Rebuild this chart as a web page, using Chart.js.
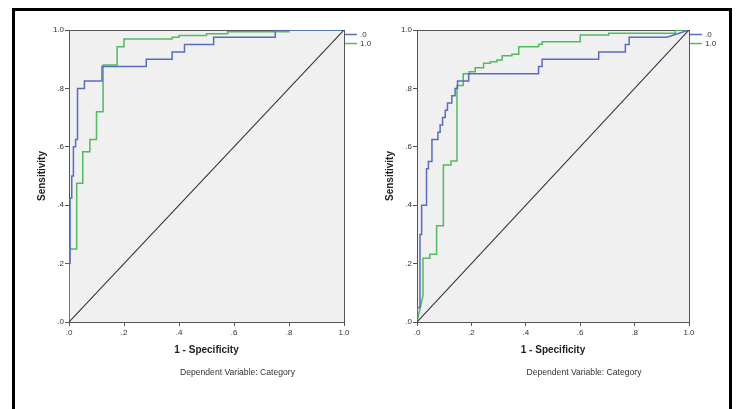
<!DOCTYPE html>
<html>
<head>
<meta charset="utf-8">
<script src="https://cdn.jsdelivr.net/npm/chart.js@4.4.1/dist/chart.umd.min.js"></script>
<style>
  body { margin: 0; background: #fff; width: 740px; height: 409px; overflow: hidden; position: relative; }
  #frame { position: absolute; left: 12px; top: 8px; width: 720px; height: 440px; border: 3px solid #000; box-sizing: border-box; }
  canvas { position: absolute; top: 15px; }
  #rocLeft { left: 15px; }
  #rocRight { left: 365px; }
</style>
</head>
<body>
<div id="frame"></div>
<canvas id="rocLeft" width="370" height="370"></canvas>
<canvas id="rocRight" width="362" height="370"></canvas>
<script>
// ROC coordinates: [1 - specificity, sensitivity]
const tickValues = [0, 0.2, 0.4, 0.6, 0.8, 1];
const tickLabels = ['.0', '.2', '.4', '.6', '.8', '1.0'];
const seriesNames = ['.0', '1.0'];
const xTitle = '1 - Specificity';
const yTitle = 'Sensitivity';
const footnote = 'Dependent Variable: Category';
const referenceLine = [[0, 0], [1, 1]];

const leftBlue = [
  [0, 0], [0, 0.2], [0.004, 0.2], [0.004, 0.425], [0.01, 0.425], [0.01, 0.5],
  [0.016, 0.5], [0.016, 0.6], [0.024, 0.6], [0.024, 0.625], [0.031, 0.625], [0.031, 0.8],
  [0.056, 0.8], [0.056, 0.825], [0.12, 0.825], [0.12, 0.875], [0.281, 0.875], [0.281, 0.9],
  [0.375, 0.9], [0.375, 0.925], [0.42, 0.925], [0.42, 0.95], [0.526, 0.95], [0.526, 0.975],
  [0.75, 0.975], [0.75, 1], [1, 1]
];
const leftGreen = [
  [0, 0], [0, 0.25], [0.028, 0.25], [0.028, 0.475], [0.05, 0.475], [0.05, 0.583],
  [0.076, 0.583], [0.076, 0.625], [0.1, 0.625], [0.1, 0.72], [0.124, 0.72], [0.124, 0.88],
  [0.175, 0.88], [0.175, 0.943], [0.2, 0.943], [0.2, 0.969], [0.375, 0.969], [0.375, 0.975],
  [0.4, 0.975], [0.4, 0.981], [0.5, 0.981], [0.5, 0.987], [0.577, 0.987], [0.577, 0.994],
  [0.8, 0.994], [0.8, 1], [1, 1]
];
const rightBlue = [
  [0, 0], [0, 0.05], [0.011, 0.05], [0.011, 0.3], [0.017, 0.3], [0.017, 0.4],
  [0.035, 0.4], [0.035, 0.525], [0.042, 0.525], [0.042, 0.55], [0.055, 0.55], [0.055, 0.625],
  [0.077, 0.625], [0.077, 0.65], [0.085, 0.65], [0.085, 0.675], [0.094, 0.675], [0.094, 0.7],
  [0.104, 0.7], [0.104, 0.725], [0.112, 0.725], [0.112, 0.75], [0.128, 0.75], [0.128, 0.775],
  [0.14, 0.775], [0.14, 0.8], [0.149, 0.8], [0.149, 0.825], [0.19, 0.825], [0.19, 0.85],
  [0.447, 0.85], [0.447, 0.875], [0.46, 0.875], [0.46, 0.9], [0.668, 0.9], [0.668, 0.925],
  [0.766, 0.925], [0.766, 0.95], [0.78, 0.95], [0.78, 0.975], [0.919, 0.975], [1, 1]
];
const rightGreen = [
  [0, 0], [0.022, 0.09], [0.022, 0.218], [0.047, 0.218], [0.047, 0.232], [0.072, 0.232],
  [0.072, 0.33], [0.097, 0.33], [0.097, 0.538], [0.125, 0.538], [0.125, 0.551], [0.147, 0.551],
  [0.147, 0.81], [0.17, 0.81], [0.17, 0.85], [0.192, 0.85], [0.192, 0.857], [0.214, 0.857],
  [0.214, 0.871], [0.245, 0.871], [0.245, 0.886], [0.27, 0.886], [0.27, 0.891], [0.294, 0.891],
  [0.294, 0.897], [0.313, 0.897], [0.313, 0.912], [0.349, 0.912], [0.349, 0.917], [0.374, 0.917],
  [0.374, 0.943], [0.447, 0.943], [0.447, 0.951], [0.46, 0.951], [0.46, 0.96], [0.6, 0.96],
  [0.6, 0.983], [0.705, 0.983], [0.705, 0.989], [0.95, 0.989], [0.95, 1], [1, 1]
];

const blue = '#5a6cc0';
const green = '#52bb5e';
const axisColor = '#555';
const textColor = '#333';
const fontFamily = '"Liberation Sans", Arial, sans-serif';

const toPoints = arr => arr.map(p => ({ x: p[0], y: p[1] }));

// grey plot area, frame, legend and footnote in SPSS style
const rocFrame = {
  id: 'rocFrame',
  beforeDatasetsDraw(chart) {
    const { ctx, chartArea: a } = chart;
    ctx.save();
    ctx.fillStyle = '#f0f0f0';
    ctx.fillRect(a.left, a.top, a.width, a.height);
    ctx.strokeStyle = axisColor;
    ctx.lineWidth = 1;
    ctx.strokeRect(a.left + 0.5, a.top + 0.5, a.width, a.height);
    ctx.restore();
  },
  afterDraw(chart) {
    const { ctx, chartArea: a } = chart;
    ctx.save();
    let row = 0;
    chart.data.datasets.forEach(ds => {
      if (!ds.inLegend) return;
      const y = a.top + 4.5 + row * 9;
      ctx.strokeStyle = ds.borderColor;
      ctx.lineWidth = 1.5;
      ctx.beginPath();
      ctx.moveTo(a.right + 1, y);
      ctx.lineTo(a.right + 13, y);
      ctx.stroke();
      ctx.fillStyle = textColor;
      ctx.font = '8px ' + fontFamily;
      ctx.textBaseline = 'middle';
      ctx.textAlign = 'left';
      ctx.fillText(ds.label, a.right + 16, y);
      row++;
    });
    ctx.font = '8.6px ' + fontFamily;
    ctx.textAlign = 'center';
    ctx.textBaseline = 'middle';
    ctx.fillStyle = textColor;
    ctx.fillText(footnote, (a.left + a.right) / 2 + 31, a.bottom + 51);
    ctx.restore();
  }
};

function makeRoc(canvasId, blueData, greenData, pad) {
  return new Chart(document.getElementById(canvasId), {
    type: 'line',
    data: {
      datasets: [
        { label: 'ref', data: toPoints(referenceLine), borderColor: '#333', borderWidth: 1.1, inLegend: false },
        { label: seriesNames[0], data: toPoints(blueData), borderColor: blue, borderWidth: 1.5, inLegend: true },
        { label: seriesNames[1], data: toPoints(greenData), borderColor: green, borderWidth: 1.5, inLegend: true }
      ]
    },
    options: {
      responsive: false,
      animation: false,
      events: [],
      elements: { point: { radius: 0 }, line: { tension: 0, fill: false } },
      layout: { padding: pad },
      plugins: { legend: { display: false }, tooltip: { enabled: false } },
      scales: {
        x: {
          type: 'linear', min: 0, max: 1,
          afterBuildTicks: s => { s.ticks = tickValues.map(v => ({ value: v })); },
          afterFit: s => { s.height = 38; },
          grid: { drawOnChartArea: false, drawTicks: true, tickLength: 4, color: axisColor },
          border: { display: false },
          ticks: {
            maxRotation: 0, padding: 2, color: textColor,
            font: { family: fontFamily, size: 8 },
            callback: (v, i) => tickLabels[i]
          },
          title: {
            display: true, text: xTitle, color: '#222',
            font: { family: fontFamily, size: 10, weight: 'bold' },
            padding: { top: 0, bottom: 4 }
          }
        },
        y: {
          type: 'linear', min: 0, max: 1,
          afterBuildTicks: s => { s.ticks = tickValues.map(v => ({ value: v })); },
          afterFit: s => { s.width = 34; },
          grid: { drawOnChartArea: false, drawTicks: true, tickLength: 4, color: axisColor },
          border: { display: false },
          ticks: {
            padding: 1, color: textColor,
            font: { family: fontFamily, size: 8 },
            callback: (v, i) => tickLabels[i]
          },
          title: {
            display: true, text: yTitle, color: '#222',
            font: { family: fontFamily, size: 10, weight: 'bold' },
            padding: { top: 1, bottom: 0 }
          }
        }
      }
    },
    plugins: [rocFrame]
  });
}

makeRoc('rocLeft', leftBlue, leftGreen, { left: 20, top: 15, right: 41, bottom: 25 });
makeRoc('rocRight', rightBlue, rightGreen, { left: 18, top: 15, right: 38, bottom: 25 });
</script>
</body>
</html>
